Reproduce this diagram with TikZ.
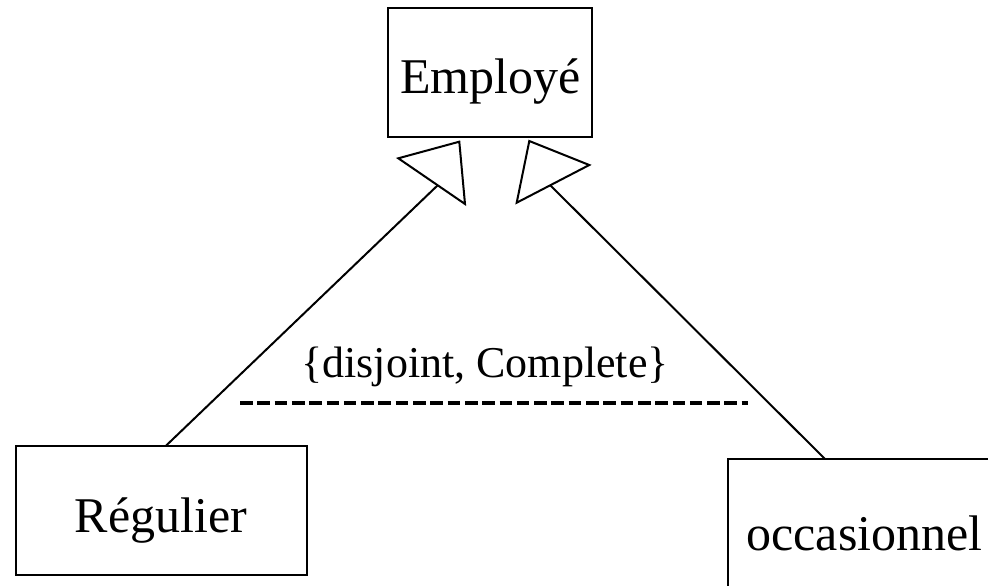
\documentclass[tikz,border=0pt]{standalone}
\usepackage{fontspec}
\setmainfont{Liberation Serif}
\begin{document}
\begin{tikzpicture}[x=1pt,y=-1pt,
  box/.style={draw,line width=2.2pt,inner sep=0pt,rectangle},
  lbl/.style={anchor=base,inner sep=0pt,font=\fontsize{50}{60}\selectfont},
  link/.style={line width=2pt},
  arrowhead/.style={line width=2pt,line join=miter}]
  \useasboundingbox (0,0) rectangle (988,586);
  \clip (0,0) rectangle (988,586);

  % class boxes
  \node[box,minimum width=204pt,minimum height=129pt] (emp) at (490,72.5) {};
  \node[box,minimum width=291pt,minimum height=129pt] (reg) at (161.5,510.5) {};
  \node[box,minimum width=291pt,minimum height=160pt] (occ) at (873.5,539) {};

  % class names
  \node[lbl] (empL) at (490.5,93) {Employé};
  \node[lbl] (regL) at (161,532) {Régulier};
  \node[lbl] (occL) at (864.5,550) {occasionnel};

  % generalisation heads (hollow triangles)
  \coordinate (la) at (398.3,158.3);
  \coordinate (lb) at (459.3,141.7);
  \coordinate (lc) at (465,204);
  \coordinate (lbase) at (438,185);
  \coordinate (ra) at (529.3,141);
  \coordinate (rb) at (589.3,165);
  \coordinate (rc) at (516.7,202.7);
  \coordinate (rbase) at (550,185);
  \draw[arrowhead] (la) -- (lb) -- (lc) -- cycle;
  \draw[arrowhead] (ra) -- (rb) -- (rc) -- cycle;

  % inheritance links
  \coordinate (regTop) at (165.7,446);
  \coordinate (occTop) at (825,459);
  \draw[link] (regTop) -- (lbase);
  \draw[link] (occTop) -- (rbase);

  % constraint
  \node[anchor=base,inner sep=0pt,font=\fontsize{44}{52}\selectfont] (cons) at (485,377) {\{disjoint, Complete\}};
  \coordinate (dA) at (240,403);
  \coordinate (dB) at (748,403);
  \draw[line width=3.6pt,dash pattern=on 12.6pt off 4.7pt] (dA) -- (dB);
\end{tikzpicture}
\end{document}
